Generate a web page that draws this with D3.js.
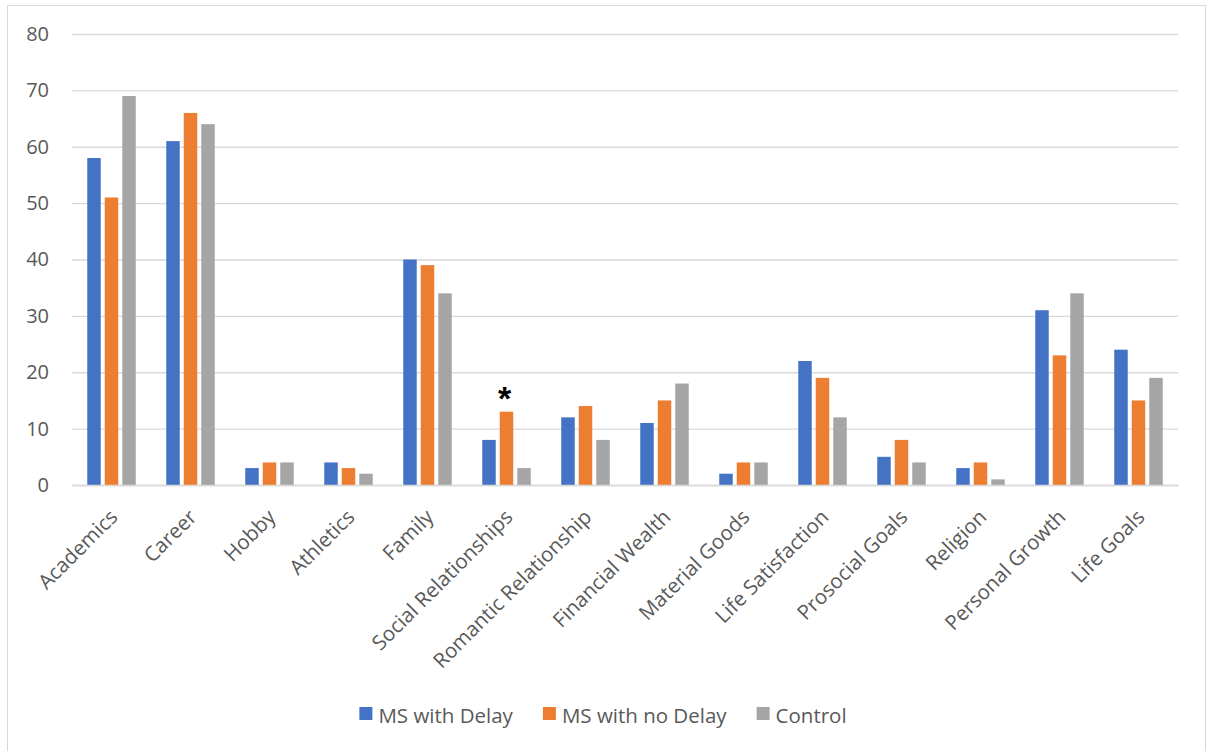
<!DOCTYPE html>
<html>
<head>
<meta charset="utf-8">
<script src="https://cdn.jsdelivr.net/npm/d3@7"></script>
<style>
  body { margin: 0; background: #fff; }
  svg { display: block; font-family: "Open Sans", sans-serif; }
</style>
</head>
<body>
<svg width="1207" height="751"></svg>
<script>
var categories = ["Academics", "Career", "Hobby", "Athletics", "Family", "Social Relationships",
  "Romantic Relationship", "Financial Wealth", "Material Goods", "Life Satisfaction",
  "Prosocial Goals", "Religion", "Personal Growth", "Life Goals"];
var seriesNames = ["MS with Delay", "MS with no Delay", "Control"];
var msDelay   = [58, 61, 3, 4, 40, 8, 12, 11, 2, 22, 5, 3, 31, 24];
var msNoDelay = [51, 66, 4, 3, 39, 13, 14, 15, 4, 19, 8, 4, 23, 15];
var control   = [69, 64, 4, 2, 34, 3, 8, 18, 4, 12, 4, 1, 34, 19];
var yTicks = [0, 10, 20, 30, 40, 50, 60, 70, 80];
var colors = ["#4472C4", "#ED7D31", "#A5A5A5"];
// significance marker: category + series
var marked = { cat: "Social Relationships", series: "MS with no Delay" };

var svg = d3.select("svg"),
    plotLeft = 72, plotRight = 1178, plotTop = 34, plotBottom = 485,
    textColor = "#595959", gridColor = "#d9d9d9";

var allValues = [msDelay, msNoDelay, control];
var rows = categories.map(function(c, i){
  return { cat: c, vals: seriesNames.map(function(s, j){ return { s: s, v: allValues[j][i] } }) };
});

// chart frame
svg.append("rect")
  .attr("x", 7.5).attr("y", 5.5)
  .attr("width", 1198).attr("height", 800)
  .attr("fill", "none").attr("stroke", gridColor);

var x0 = d3.scaleBand().domain(categories).range([plotLeft, plotRight]).paddingInner(0.386).paddingOuter(0.193);
var x1 = d3.scaleBand().domain(seriesNames).range([0, x0.bandwidth()]).paddingInner(0.23);
var y = d3.scaleLinear().domain([0, 80]).range([plotBottom, plotTop]);
var color = d3.scaleOrdinal().domain(seriesNames).range(colors);

// gridlines + y labels
var yAxis = svg.append("g")
  .attr("transform", "translate(" + plotLeft + ",0)")
  .call(d3.axisLeft(y).tickValues(yTicks).tickSize(-(plotRight - plotLeft)).tickPadding(23));
yAxis.select(".domain").remove();
yAxis.selectAll("line").attr("stroke", gridColor).attr("stroke-width", 1.3);
yAxis.selectAll("text").attr("fill", textColor).style("font-size", "20px")
  .style("font-family", "'Open Sans', sans-serif");

// bars
var groups = svg.selectAll(".grp")
  .data(rows)
  .enter()
  .append("g")
  .attr("class", "grp")
  .attr("transform", function(d){ return "translate(" + x0(d.cat) + ",0)" });

groups.selectAll("rect")
  .data(function(d){ return d.vals })
  .enter()
  .append("rect")
  .attr("x", function(d){ return x1(d.s) })
  .attr("y", function(d){ return y(d.v) })
  .attr("width", x1.bandwidth())
  .attr("height", function(d){ return y(0) - y(d.v) })
  .attr("fill", function(d){ return color(d.s) });

// asterisk
var mi = categories.indexOf(marked.cat), ms = seriesNames.indexOf(marked.series);
svg.append("text")
  .attr("x", x0(marked.cat) + x1(marked.series) + x1.bandwidth() / 2 - 2)
  .attr("y", y(allValues[ms][mi]) - 2)
  .attr("text-anchor", "middle")
  .style("font-family", "'Liberation Sans', Arial, sans-serif")
  .style("font-size", "34px")
  .style("font-weight", "bold")
  .attr("fill", "#000")
  .text("*");

// x axis
var xAxis = svg.append("g")
  .attr("transform", "translate(0," + plotBottom + ")")
  .call(d3.axisBottom(x0).tickSize(0));
xAxis.select(".domain").attr("stroke", gridColor).attr("stroke-width", 1.3);
xAxis.selectAll("text")
  .attr("x", 0).attr("y", 0).attr("dy", "0.78em")
  .attr("transform", "translate(-4,22) rotate(-45)")
  .attr("text-anchor", "end")
  .attr("fill", textColor)
  .style("font-size", "20.5px")
  .style("font-family", "'Open Sans', sans-serif");

// legend
var legend = svg.append("g");
var items = legend.selectAll("g")
  .data(seriesNames)
  .enter()
  .append("g");
items.append("rect")
  .attr("width", 13).attr("height", 13)
  .attr("y", 707)
  .attr("fill", function(d){ return color(d) });
items.append("text")
  .attr("x", 19).attr("y", 723)
  .attr("fill", textColor)
  .style("font-size", "20.5px")
  .text(function(d){ return d });
var pos = 0;
items.each(function(){
  var w = d3.select(this).select("text").node().getComputedTextLength();
  d3.select(this).attr("transform", "translate(" + pos + ",0)");
  pos += 19 + w + 30;
});
pos -= 30;
legend.attr("transform", "translate(" + (603 - pos / 2) + ",0)");
</script>
</body>
</html>
